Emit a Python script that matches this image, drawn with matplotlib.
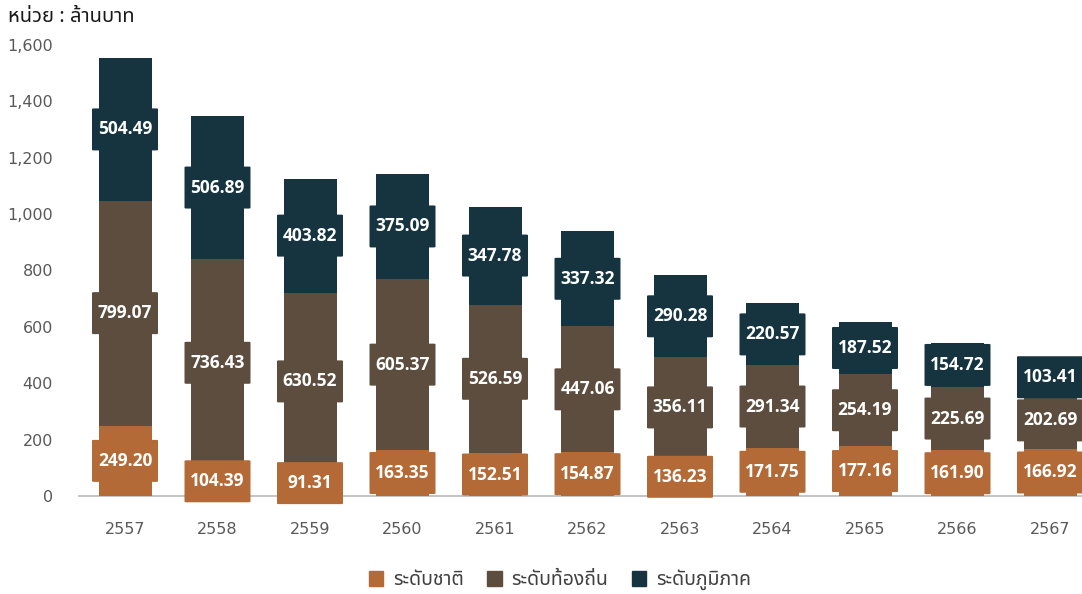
import matplotlib
matplotlib.use("Agg")
import matplotlib.pyplot as plt
from matplotlib import font_manager
from matplotlib.ft2font import FT2Font
from matplotlib.patches import FancyBboxPatch
import numpy as np

years = ["2557", "2558", "2559", "2560", "2561", "2562", "2563", "2564", "2565", "2566", "2567"]
national = [249.20, 104.39, 91.31, 163.35, 152.51, 154.87, 136.23, 171.75, 177.16, 161.90, 166.92]
local = [799.07, 736.43, 630.52, 605.37, 526.59, 447.06, 356.11, 291.34, 254.19, 225.69, 202.69]
regional = [504.49, 506.89, 403.82, 375.09, 347.78, 337.32, 290.28, 220.57, 187.52, 154.72, 103.41]
series_names = ["ระดับชาติ", "ระดับท้องถิ่น", "ระดับภูมิภาค"]
colors = ["#B36A36", "#5C4D3E", "#163440"]
unit_label = "หน่วย : ล้านบาท"
yticks = [0, 200, 400, 600, 800, 1000, 1200, 1400, 1600]


def find_thai_font():
    preferred = ["Noto Sans Thai", "Noto Sans Thai UI", "Loma", "Garuda", "Tlwg Typist",
                 "Norasi", "Sarabun", "Kinnari", "Waree", "Umpush", "Laksaman"]
    fonts = font_manager.fontManager.ttflist
    for name in preferred:
        for f in fonts:
            if f.name == name:
                return f.name
    for f in fonts:
        try:
            cmap = FT2Font(f.fname).get_charmap()
        except Exception:
            continue
        if 0x0E2B in cmap and 0x0E32 in cmap:
            return f.name
    return None


thai = find_thai_font()
thai_family = [thai, "DejaVu Sans"] if thai else ["DejaVu Sans"]

W, H = 1082, 594
base_px, top_px = 496, 45
left_px, step_px, first_px = 78.75, 92.5, 125

fig = plt.figure(figsize=(W / 100, H / 100), dpi=100)
ax = fig.add_axes([left_px / W, (H - base_px) / H, (W - left_px) / W, (base_px - top_px) / H])
px_per_unit = (base_px - top_px) / 1600

x = np.arange(len(years))
bar_w = 53 / step_px
stack = [national, local, regional]
bottoms = np.zeros(len(years))
for vals, c in zip(stack, colors):
    ax.bar(x, vals, bottom=bottoms, width=bar_w, color=c, zorder=2, clip_on=False)
    bottoms += np.array(vals)

ax.set_xlim(-0.5, (W - first_px) / step_px)
ax.set_ylim(0, 1600)

# value boxes centred on each segment
box_w = 66 / step_px
box_h = 42 / px_per_unit
bottoms = np.zeros(len(years))
for k, (vals, c) in enumerate(zip(stack, colors)):
    for i, v in enumerate(vals):
        mid = bottoms[i] + v / 2
        patch = FancyBboxPatch((x[i] - box_w / 2, mid - box_h / 2), box_w, box_h,
                               boxstyle="round,pad=0,rounding_size=0.02",
                               facecolor=c, edgecolor="none", zorder=3 + k,
                               clip_on=False, mutation_aspect=box_h / box_w * 0.6)
        ax.add_patch(patch)
        ax.text(x[i], mid, f"{v:.2f}", ha="center", va="center", color="white",
                family=["Open Sans", "DejaVu Sans"], fontsize=12.5, fontweight="bold",
                zorder=4 + k, clip_on=False)
    bottoms += np.array(vals)

ax.set_yticks(yticks)
ax.set_yticklabels([f"{t:,}" for t in yticks])
ax.set_xticks(x)
ax.set_xticklabels(years)
ax.tick_params(axis="y", length=0, labelsize=11.5, labelcolor="#595959", pad=18.5)
ax.tick_params(axis="x", length=0, labelsize=11.5, labelcolor="#595959", pad=19)
for side in ["top", "right", "left"]:
    ax.spines[side].set_visible(False)
ax.spines["bottom"].set_color("#BFBFBF")
ax.spines["bottom"].set_linewidth(1.3)
ax.spines["bottom"].set_zorder(1)

fig.text(8 / W, 1 - 17 / H, unit_label, family=thai_family, fontsize=14.5,
         fontweight="bold", color="#1A1A1A", ha="left", va="center")

handles = [plt.Rectangle((0, 0), 1, 1, color=c) for c in colors]
fig.legend(handles, series_names, loc="center", bbox_to_anchor=(560 / W, 1 - 580 / H),
           ncol=3, frameon=False, prop={"family": thai_family, "size": 14},
           handlelength=0.75, handleheight=0.75, columnspacing=1.2, handletextpad=0.5,
           labelcolor="#404040")

fig.savefig("out.png", dpi=100)
